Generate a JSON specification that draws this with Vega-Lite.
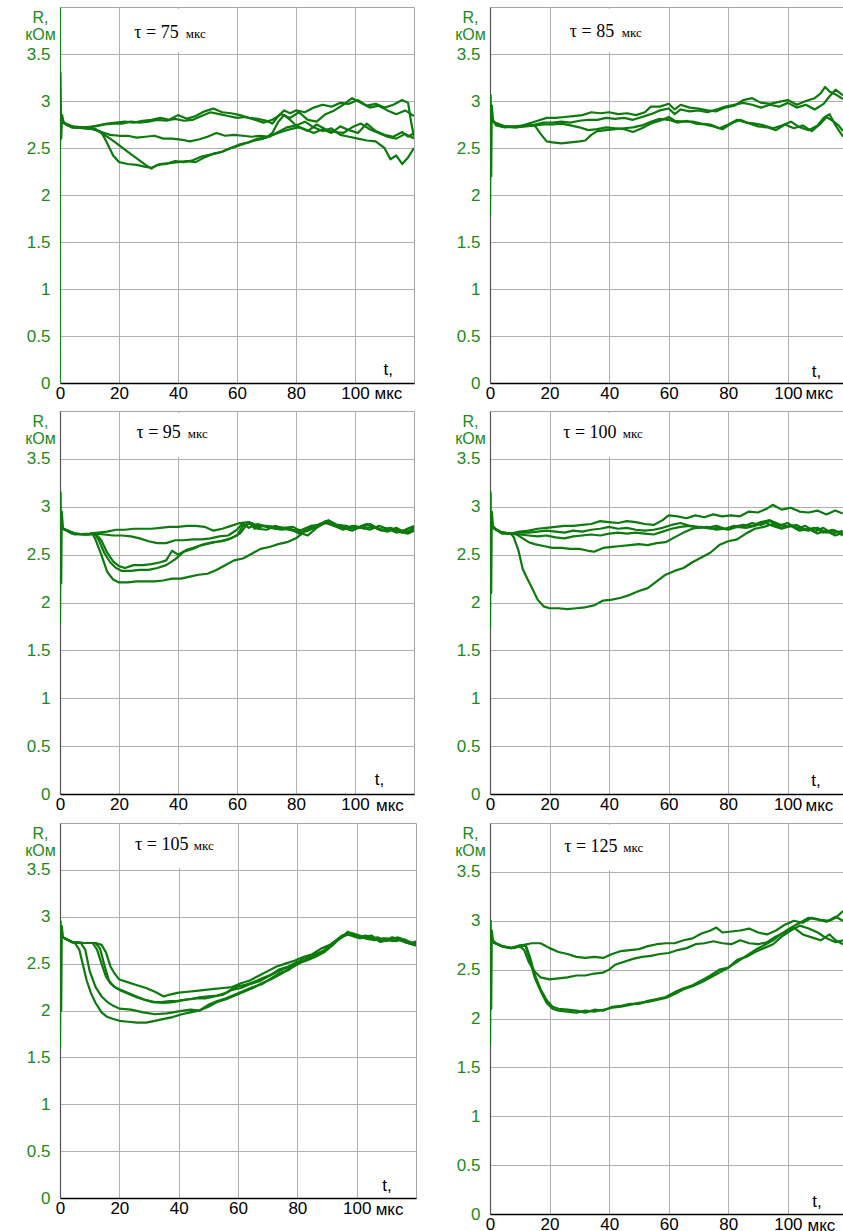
{
"$schema":"https://vega.github.io/schema/vega-lite/v6.json",
"background":"white",
"padding":{"left":5,"top":6,"right":0,"bottom":0},
"datasets":{"tr":[
{"p":1,"s":"a","t":0,"R":2.5},{"p":1,"s":"a","t":0.15,"R":3.3},{"p":1,"s":"a","t":0.4,"R":2.6},{"p":1,"s":"a","t":0.7,"R":2.85},{"p":1,"s":"a","t":1.2,"R":2.78},{"p":1,"s":"a","t":2.5,"R":2.74},{"p":1,"s":"a","t":5,"R":2.72},{"p":1,"s":"a","t":8,"R":2.72},{"p":1,"s":"a","t":10,"R":2.72},{"p":1,"s":"a","t":13,"R":2.74},{"p":1,"s":"a","t":16,"R":2.76},{"p":1,"s":"a","t":19,"R":2.77},{"p":1,"s":"a","t":22,"R":2.78},{"p":1,"s":"a","t":25,"R":2.77},{"p":1,"s":"a","t":28,"R":2.79},{"p":1,"s":"a","t":31,"R":2.8},{"p":1,"s":"a","t":34,"R":2.82},{"p":1,"s":"a","t":37,"R":2.8},{"p":1,"s":"a","t":40,"R":2.85},{"p":1,"s":"a","t":43,"R":2.81},{"p":1,"s":"a","t":46,"R":2.84},{"p":1,"s":"a","t":49,"R":2.89},{"p":1,"s":"a","t":52,"R":2.92},{"p":1,"s":"a","t":55,"R":2.88},{"p":1,"s":"a","t":58,"R":2.87},{"p":1,"s":"a","t":61,"R":2.85},{"p":1,"s":"a","t":64,"R":2.82},{"p":1,"s":"a","t":67,"R":2.81},{"p":1,"s":"a","t":70,"R":2.79},{"p":1,"s":"a","t":72,"R":2.76},{"p":1,"s":"a","t":74,"R":2.84},{"p":1,"s":"a","t":76,"R":2.9},{"p":1,"s":"a","t":78,"R":2.87},{"p":1,"s":"a","t":80,"R":2.9},{"p":1,"s":"a","t":83,"R":2.88},{"p":1,"s":"a","t":86,"R":2.93},{"p":1,"s":"a","t":89,"R":2.96},{"p":1,"s":"a","t":92,"R":2.94},{"p":1,"s":"a","t":95,"R":2.98},{"p":1,"s":"a","t":98,"R":2.97},{"p":1,"s":"a","t":101,"R":3.01},{"p":1,"s":"a","t":104,"R":2.95},{"p":1,"s":"a","t":107,"R":2.97},{"p":1,"s":"a","t":110,"R":2.93},{"p":1,"s":"a","t":113,"R":2.96},{"p":1,"s":"a","t":116,"R":3.01},{"p":1,"s":"a","t":118,"R":2.98},{"p":1,"s":"a","t":119,"R":2.78},{"p":1,"s":"a","t":120,"R":2.62},
{"p":1,"s":"b","t":1,"R":2.77},{"p":1,"s":"b","t":4,"R":2.73},{"p":1,"s":"b","t":8,"R":2.72},{"p":1,"s":"b","t":12,"R":2.73},{"p":1,"s":"b","t":15,"R":2.75},{"p":1,"s":"b","t":18,"R":2.76},{"p":1,"s":"b","t":21,"R":2.76},{"p":1,"s":"b","t":24,"R":2.78},{"p":1,"s":"b","t":27,"R":2.77},{"p":1,"s":"b","t":30,"R":2.78},{"p":1,"s":"b","t":33,"R":2.8},{"p":1,"s":"b","t":36,"R":2.79},{"p":1,"s":"b","t":39,"R":2.81},{"p":1,"s":"b","t":42,"R":2.79},{"p":1,"s":"b","t":45,"R":2.8},{"p":1,"s":"b","t":48,"R":2.84},{"p":1,"s":"b","t":51,"R":2.88},{"p":1,"s":"b","t":54,"R":2.86},{"p":1,"s":"b","t":57,"R":2.84},{"p":1,"s":"b","t":60,"R":2.82},{"p":1,"s":"b","t":63,"R":2.83},{"p":1,"s":"b","t":66,"R":2.8},{"p":1,"s":"b","t":69,"R":2.77},{"p":1,"s":"b","t":72,"R":2.8},{"p":1,"s":"b","t":75,"R":2.86},{"p":1,"s":"b","t":78,"R":2.82},{"p":1,"s":"b","t":81,"R":2.88},{"p":1,"s":"b","t":84,"R":2.8},{"p":1,"s":"b","t":87,"R":2.78},{"p":1,"s":"b","t":90,"R":2.86},{"p":1,"s":"b","t":93,"R":2.9},{"p":1,"s":"b","t":96,"R":2.96},{"p":1,"s":"b","t":99,"R":3.03},{"p":1,"s":"b","t":102,"R":2.98},{"p":1,"s":"b","t":105,"R":2.93},{"p":1,"s":"b","t":108,"R":2.95},{"p":1,"s":"b","t":111,"R":2.9},{"p":1,"s":"b","t":114,"R":2.86},{"p":1,"s":"b","t":117,"R":2.9},{"p":1,"s":"b","t":120,"R":2.84},
{"p":1,"s":"c","t":1,"R":2.77},{"p":1,"s":"c","t":4,"R":2.72},{"p":1,"s":"c","t":8,"R":2.71},{"p":1,"s":"c","t":11,"R":2.7},{"p":1,"s":"c","t":14,"R":2.67},{"p":1,"s":"c","t":17,"R":2.64},{"p":1,"s":"c","t":20,"R":2.63},{"p":1,"s":"c","t":23,"R":2.63},{"p":1,"s":"c","t":26,"R":2.61},{"p":1,"s":"c","t":29,"R":2.62},{"p":1,"s":"c","t":32,"R":2.63},{"p":1,"s":"c","t":35,"R":2.6},{"p":1,"s":"c","t":38,"R":2.6},{"p":1,"s":"c","t":41,"R":2.59},{"p":1,"s":"c","t":44,"R":2.57},{"p":1,"s":"c","t":47,"R":2.59},{"p":1,"s":"c","t":50,"R":2.62},{"p":1,"s":"c","t":53,"R":2.66},{"p":1,"s":"c","t":56,"R":2.63},{"p":1,"s":"c","t":59,"R":2.64},{"p":1,"s":"c","t":62,"R":2.63},{"p":1,"s":"c","t":65,"R":2.62},{"p":1,"s":"c","t":68,"R":2.63},{"p":1,"s":"c","t":71,"R":2.62},{"p":1,"s":"c","t":74,"R":2.67},{"p":1,"s":"c","t":77,"R":2.72},{"p":1,"s":"c","t":80,"R":2.74},{"p":1,"s":"c","t":83,"R":2.7},{"p":1,"s":"c","t":86,"R":2.66},{"p":1,"s":"c","t":89,"R":2.7},{"p":1,"s":"c","t":92,"R":2.66},{"p":1,"s":"c","t":95,"R":2.73},{"p":1,"s":"c","t":98,"R":2.69},{"p":1,"s":"c","t":101,"R":2.66},{"p":1,"s":"c","t":104,"R":2.76},{"p":1,"s":"c","t":107,"R":2.68},{"p":1,"s":"c","t":110,"R":2.64},{"p":1,"s":"c","t":113,"R":2.62},{"p":1,"s":"c","t":116,"R":2.67},{"p":1,"s":"c","t":118,"R":2.62},{"p":1,"s":"c","t":120,"R":2.66},
{"p":1,"s":"d","t":1,"R":2.77},{"p":1,"s":"d","t":4,"R":2.72},{"p":1,"s":"d","t":8,"R":2.71},{"p":1,"s":"d","t":12,"R":2.7},{"p":1,"s":"d","t":14,"R":2.67},{"p":1,"s":"d","t":16,"R":2.55},{"p":1,"s":"d","t":18,"R":2.42},{"p":1,"s":"d","t":20,"R":2.35},{"p":1,"s":"d","t":23,"R":2.33},{"p":1,"s":"d","t":26,"R":2.32},{"p":1,"s":"d","t":29,"R":2.3},{"p":1,"s":"d","t":31,"R":2.29},{"p":1,"s":"d","t":34,"R":2.33},{"p":1,"s":"d","t":37,"R":2.34},{"p":1,"s":"d","t":40,"R":2.35},{"p":1,"s":"d","t":43,"R":2.36},{"p":1,"s":"d","t":46,"R":2.35},{"p":1,"s":"d","t":49,"R":2.4},{"p":1,"s":"d","t":52,"R":2.44},{"p":1,"s":"d","t":55,"R":2.46},{"p":1,"s":"d","t":58,"R":2.5},{"p":1,"s":"d","t":61,"R":2.54},{"p":1,"s":"d","t":64,"R":2.56},{"p":1,"s":"d","t":67,"R":2.6},{"p":1,"s":"d","t":70,"R":2.61},{"p":1,"s":"d","t":72,"R":2.66},{"p":1,"s":"d","t":74,"R":2.78},{"p":1,"s":"d","t":76,"R":2.85},{"p":1,"s":"d","t":78,"R":2.8},{"p":1,"s":"d","t":80,"R":2.74},{"p":1,"s":"d","t":83,"R":2.78},{"p":1,"s":"d","t":86,"R":2.72},{"p":1,"s":"d","t":89,"R":2.68},{"p":1,"s":"d","t":92,"R":2.71},{"p":1,"s":"d","t":95,"R":2.64},{"p":1,"s":"d","t":98,"R":2.62},{"p":1,"s":"d","t":101,"R":2.6},{"p":1,"s":"d","t":104,"R":2.58},{"p":1,"s":"d","t":107,"R":2.57},{"p":1,"s":"d","t":110,"R":2.5},{"p":1,"s":"d","t":112,"R":2.38},{"p":1,"s":"d","t":114,"R":2.42},{"p":1,"s":"d","t":116,"R":2.33},{"p":1,"s":"d","t":118,"R":2.4},{"p":1,"s":"d","t":120,"R":2.5},
{"p":1,"s":"e","t":1,"R":2.77},{"p":1,"s":"e","t":5,"R":2.72},{"p":1,"s":"e","t":9,"R":2.71},{"p":1,"s":"e","t":12,"R":2.7},{"p":1,"s":"e","t":14,"R":2.66},{"p":1,"s":"e","t":17,"R":2.6},{"p":1,"s":"e","t":20,"R":2.53},{"p":1,"s":"e","t":23,"R":2.46},{"p":1,"s":"e","t":26,"R":2.39},{"p":1,"s":"e","t":29,"R":2.32},{"p":1,"s":"e","t":31,"R":2.28},{"p":1,"s":"e","t":33,"R":2.32},{"p":1,"s":"e","t":36,"R":2.33},{"p":1,"s":"e","t":39,"R":2.36},{"p":1,"s":"e","t":42,"R":2.35},{"p":1,"s":"e","t":45,"R":2.37},{"p":1,"s":"e","t":48,"R":2.41},{"p":1,"s":"e","t":51,"R":2.43},{"p":1,"s":"e","t":54,"R":2.45},{"p":1,"s":"e","t":57,"R":2.49},{"p":1,"s":"e","t":60,"R":2.52},{"p":1,"s":"e","t":63,"R":2.55},{"p":1,"s":"e","t":66,"R":2.58},{"p":1,"s":"e","t":69,"R":2.6},{"p":1,"s":"e","t":72,"R":2.64},{"p":1,"s":"e","t":75,"R":2.67},{"p":1,"s":"e","t":78,"R":2.7},{"p":1,"s":"e","t":81,"R":2.72},{"p":1,"s":"e","t":84,"R":2.68},{"p":1,"s":"e","t":87,"R":2.75},{"p":1,"s":"e","t":90,"R":2.7},{"p":1,"s":"e","t":93,"R":2.67},{"p":1,"s":"e","t":96,"R":2.66},{"p":1,"s":"e","t":99,"R":2.72},{"p":1,"s":"e","t":102,"R":2.76},{"p":1,"s":"e","t":105,"R":2.7},{"p":1,"s":"e","t":108,"R":2.66},{"p":1,"s":"e","t":111,"R":2.62},{"p":1,"s":"e","t":114,"R":2.6},{"p":1,"s":"e","t":117,"R":2.65},{"p":1,"s":"e","t":120,"R":2.6},
{"p":2,"s":"a","t":0,"R":1.78},{"p":2,"s":"a","t":0.2,"R":3.06},{"p":2,"s":"a","t":0.4,"R":2.2},{"p":2,"s":"a","t":0.6,"R":2.95},{"p":2,"s":"a","t":1,"R":2.8},{"p":2,"s":"a","t":2,"R":2.74},{"p":2,"s":"a","t":5,"R":2.72},{"p":2,"s":"a","t":10,"R":2.73},{"p":2,"s":"a","t":13,"R":2.76},{"p":2,"s":"a","t":16,"R":2.79},{"p":2,"s":"a","t":19,"R":2.82},{"p":2,"s":"a","t":22,"R":2.82},{"p":2,"s":"a","t":25,"R":2.83},{"p":2,"s":"a","t":28,"R":2.84},{"p":2,"s":"a","t":31,"R":2.85},{"p":2,"s":"a","t":34,"R":2.88},{"p":2,"s":"a","t":37,"R":2.87},{"p":2,"s":"a","t":40,"R":2.88},{"p":2,"s":"a","t":43,"R":2.86},{"p":2,"s":"a","t":46,"R":2.87},{"p":2,"s":"a","t":49,"R":2.85},{"p":2,"s":"a","t":52,"R":2.88},{"p":2,"s":"a","t":54,"R":2.94},{"p":2,"s":"a","t":57,"R":2.94},{"p":2,"s":"a","t":60,"R":2.97},{"p":2,"s":"a","t":62,"R":2.91},{"p":2,"s":"a","t":64,"R":2.96},{"p":2,"s":"a","t":67,"R":2.93},{"p":2,"s":"a","t":70,"R":2.92},{"p":2,"s":"a","t":73,"R":2.9},{"p":2,"s":"a","t":76,"R":2.89},{"p":2,"s":"a","t":79,"R":2.93},{"p":2,"s":"a","t":82,"R":2.95},{"p":2,"s":"a","t":85,"R":3.01},{"p":2,"s":"a","t":88,"R":3.03},{"p":2,"s":"a","t":91,"R":2.98},{"p":2,"s":"a","t":94,"R":2.97},{"p":2,"s":"a","t":97,"R":2.99},{"p":2,"s":"a","t":100,"R":3.01},{"p":2,"s":"a","t":103,"R":2.96},{"p":2,"s":"a","t":106,"R":3},{"p":2,"s":"a","t":109,"R":3.03},{"p":2,"s":"a","t":111,"R":3.08},{"p":2,"s":"a","t":112.5,"R":3.15},{"p":2,"s":"a","t":114,"R":3.1},{"p":2,"s":"a","t":116,"R":3.07},{"p":2,"s":"a","t":118.5,"R":3.02},
{"p":2,"s":"b","t":1,"R":2.78},{"p":2,"s":"b","t":4,"R":2.73},{"p":2,"s":"b","t":8,"R":2.73},{"p":2,"s":"b","t":12,"R":2.74},{"p":2,"s":"b","t":15,"R":2.75},{"p":2,"s":"b","t":18,"R":2.77},{"p":2,"s":"b","t":21,"R":2.77},{"p":2,"s":"b","t":24,"R":2.78},{"p":2,"s":"b","t":27,"R":2.77},{"p":2,"s":"b","t":30,"R":2.79},{"p":2,"s":"b","t":33,"R":2.8},{"p":2,"s":"b","t":36,"R":2.8},{"p":2,"s":"b","t":39,"R":2.82},{"p":2,"s":"b","t":42,"R":2.81},{"p":2,"s":"b","t":45,"R":2.82},{"p":2,"s":"b","t":48,"R":2.8},{"p":2,"s":"b","t":51,"R":2.83},{"p":2,"s":"b","t":54,"R":2.86},{"p":2,"s":"b","t":57,"R":2.9},{"p":2,"s":"b","t":60,"R":2.92},{"p":2,"s":"b","t":62,"R":2.86},{"p":2,"s":"b","t":64,"R":2.91},{"p":2,"s":"b","t":67,"R":2.89},{"p":2,"s":"b","t":70,"R":2.9},{"p":2,"s":"b","t":73,"R":2.88},{"p":2,"s":"b","t":76,"R":2.91},{"p":2,"s":"b","t":79,"R":2.94},{"p":2,"s":"b","t":82,"R":2.96},{"p":2,"s":"b","t":85,"R":2.98},{"p":2,"s":"b","t":88,"R":2.96},{"p":2,"s":"b","t":91,"R":2.93},{"p":2,"s":"b","t":94,"R":2.96},{"p":2,"s":"b","t":97,"R":2.94},{"p":2,"s":"b","t":100,"R":2.98},{"p":2,"s":"b","t":103,"R":2.93},{"p":2,"s":"b","t":106,"R":2.96},{"p":2,"s":"b","t":109,"R":2.91},{"p":2,"s":"b","t":112,"R":2.97},{"p":2,"s":"b","t":114,"R":3.05},{"p":2,"s":"b","t":116,"R":3.12},{"p":2,"s":"b","t":118.5,"R":3.06},
{"p":2,"s":"c","t":1,"R":2.78},{"p":2,"s":"c","t":4,"R":2.73},{"p":2,"s":"c","t":8,"R":2.72},{"p":2,"s":"c","t":12,"R":2.73},{"p":2,"s":"c","t":15,"R":2.74},{"p":2,"s":"c","t":18,"R":2.75},{"p":2,"s":"c","t":21,"R":2.75},{"p":2,"s":"c","t":24,"R":2.76},{"p":2,"s":"c","t":27,"R":2.74},{"p":2,"s":"c","t":30,"R":2.72},{"p":2,"s":"c","t":33,"R":2.69},{"p":2,"s":"c","t":36,"R":2.7},{"p":2,"s":"c","t":39,"R":2.72},{"p":2,"s":"c","t":42,"R":2.71},{"p":2,"s":"c","t":45,"R":2.7},{"p":2,"s":"c","t":48,"R":2.67},{"p":2,"s":"c","t":51,"R":2.71},{"p":2,"s":"c","t":54,"R":2.76},{"p":2,"s":"c","t":57,"R":2.79},{"p":2,"s":"c","t":60,"R":2.83},{"p":2,"s":"c","t":62,"R":2.79},{"p":2,"s":"c","t":65,"R":2.78},{"p":2,"s":"c","t":68,"R":2.78},{"p":2,"s":"c","t":71,"R":2.76},{"p":2,"s":"c","t":74,"R":2.75},{"p":2,"s":"c","t":77,"R":2.71},{"p":2,"s":"c","t":80,"R":2.75},{"p":2,"s":"c","t":83,"R":2.8},{"p":2,"s":"c","t":86,"R":2.77},{"p":2,"s":"c","t":89,"R":2.76},{"p":2,"s":"c","t":92,"R":2.74},{"p":2,"s":"c","t":95,"R":2.71},{"p":2,"s":"c","t":98,"R":2.74},{"p":2,"s":"c","t":101,"R":2.78},{"p":2,"s":"c","t":104,"R":2.72},{"p":2,"s":"c","t":107,"R":2.69},{"p":2,"s":"c","t":110,"R":2.74},{"p":2,"s":"c","t":112,"R":2.82},{"p":2,"s":"c","t":114,"R":2.86},{"p":2,"s":"c","t":116,"R":2.74},{"p":2,"s":"c","t":118.5,"R":2.62},
{"p":2,"s":"d","t":1,"R":2.78},{"p":2,"s":"d","t":5,"R":2.73},{"p":2,"s":"d","t":9,"R":2.72},{"p":2,"s":"d","t":13,"R":2.74},{"p":2,"s":"d","t":15,"R":2.74},{"p":2,"s":"d","t":17,"R":2.65},{"p":2,"s":"d","t":19,"R":2.57},{"p":2,"s":"d","t":21,"R":2.56},{"p":2,"s":"d","t":24,"R":2.55},{"p":2,"s":"d","t":27,"R":2.56},{"p":2,"s":"d","t":30,"R":2.57},{"p":2,"s":"d","t":32,"R":2.58},{"p":2,"s":"d","t":34,"R":2.64},{"p":2,"s":"d","t":36,"R":2.68},{"p":2,"s":"d","t":39,"R":2.69},{"p":2,"s":"d","t":42,"R":2.7},{"p":2,"s":"d","t":45,"R":2.71},{"p":2,"s":"d","t":48,"R":2.72},{"p":2,"s":"d","t":51,"R":2.74},{"p":2,"s":"d","t":54,"R":2.78},{"p":2,"s":"d","t":57,"R":2.81},{"p":2,"s":"d","t":60,"R":2.8},{"p":2,"s":"d","t":63,"R":2.77},{"p":2,"s":"d","t":66,"R":2.79},{"p":2,"s":"d","t":69,"R":2.76},{"p":2,"s":"d","t":72,"R":2.75},{"p":2,"s":"d","t":75,"R":2.73},{"p":2,"s":"d","t":78,"R":2.7},{"p":2,"s":"d","t":81,"R":2.76},{"p":2,"s":"d","t":84,"R":2.8},{"p":2,"s":"d","t":87,"R":2.76},{"p":2,"s":"d","t":90,"R":2.73},{"p":2,"s":"d","t":93,"R":2.72},{"p":2,"s":"d","t":96,"R":2.69},{"p":2,"s":"d","t":99,"R":2.75},{"p":2,"s":"d","t":102,"R":2.71},{"p":2,"s":"d","t":105,"R":2.74},{"p":2,"s":"d","t":108,"R":2.68},{"p":2,"s":"d","t":111,"R":2.76},{"p":2,"s":"d","t":113,"R":2.83},{"p":2,"s":"d","t":115,"R":2.79},{"p":2,"s":"d","t":117,"R":2.74},{"p":2,"s":"d","t":118.5,"R":2.68},
{"p":3,"s":"a","t":0,"R":1.78},{"p":3,"s":"a","t":0.2,"R":3.15},{"p":3,"s":"a","t":0.4,"R":2.2},{"p":3,"s":"a","t":0.6,"R":2.95},{"p":3,"s":"a","t":1,"R":2.78},{"p":3,"s":"a","t":2,"R":2.76},{"p":3,"s":"a","t":5,"R":2.71},{"p":3,"s":"a","t":10,"R":2.72},{"p":3,"s":"a","t":13,"R":2.73},{"p":3,"s":"a","t":16,"R":2.74},{"p":3,"s":"a","t":19,"R":2.76},{"p":3,"s":"a","t":22,"R":2.76},{"p":3,"s":"a","t":25,"R":2.77},{"p":3,"s":"a","t":28,"R":2.77},{"p":3,"s":"a","t":31,"R":2.77},{"p":3,"s":"a","t":34,"R":2.78},{"p":3,"s":"a","t":37,"R":2.79},{"p":3,"s":"a","t":40,"R":2.79},{"p":3,"s":"a","t":43,"R":2.8},{"p":3,"s":"a","t":46,"R":2.8},{"p":3,"s":"a","t":49,"R":2.79},{"p":3,"s":"a","t":52,"R":2.75},{"p":3,"s":"a","t":55,"R":2.77},{"p":3,"s":"a","t":58,"R":2.8},{"p":3,"s":"a","t":61,"R":2.83},{"p":3,"s":"a","t":64,"R":2.84},{"p":3,"s":"a","t":67,"R":2.8},{"p":3,"s":"a","t":70,"R":2.8},{"p":3,"s":"a","t":73,"R":2.79},{"p":3,"s":"a","t":76,"R":2.78},{"p":3,"s":"a","t":79,"R":2.79},{"p":3,"s":"a","t":82,"R":2.74},{"p":3,"s":"a","t":85,"R":2.77},{"p":3,"s":"a","t":88,"R":2.8},{"p":3,"s":"a","t":90,"R":2.85},{"p":3,"s":"a","t":92,"R":2.82},{"p":3,"s":"a","t":95,"R":2.79},{"p":3,"s":"a","t":98,"R":2.77},{"p":3,"s":"a","t":101,"R":2.78},{"p":3,"s":"a","t":104,"R":2.82},{"p":3,"s":"a","t":107,"R":2.78},{"p":3,"s":"a","t":110,"R":2.75},{"p":3,"s":"a","t":113,"R":2.76},{"p":3,"s":"a","t":116,"R":2.73},{"p":3,"s":"a","t":118,"R":2.77},{"p":3,"s":"a","t":120,"R":2.79},
{"p":3,"s":"b","t":1,"R":2.77},{"p":3,"s":"b","t":4,"R":2.72},{"p":3,"s":"b","t":8,"R":2.71},{"p":3,"s":"b","t":12,"R":2.72},{"p":3,"s":"b","t":15,"R":2.71},{"p":3,"s":"b","t":18,"R":2.7},{"p":3,"s":"b","t":21,"R":2.7},{"p":3,"s":"b","t":24,"R":2.69},{"p":3,"s":"b","t":27,"R":2.67},{"p":3,"s":"b","t":30,"R":2.64},{"p":3,"s":"b","t":33,"R":2.62},{"p":3,"s":"b","t":36,"R":2.62},{"p":3,"s":"b","t":39,"R":2.65},{"p":3,"s":"b","t":42,"R":2.65},{"p":3,"s":"b","t":45,"R":2.66},{"p":3,"s":"b","t":48,"R":2.66},{"p":3,"s":"b","t":51,"R":2.67},{"p":3,"s":"b","t":54,"R":2.69},{"p":3,"s":"b","t":57,"R":2.7},{"p":3,"s":"b","t":60,"R":2.76},{"p":3,"s":"b","t":62,"R":2.83},{"p":3,"s":"b","t":64,"R":2.78},{"p":3,"s":"b","t":67,"R":2.82},{"p":3,"s":"b","t":70,"R":2.79},{"p":3,"s":"b","t":73,"R":2.77},{"p":3,"s":"b","t":76,"R":2.78},{"p":3,"s":"b","t":79,"R":2.76},{"p":3,"s":"b","t":82,"R":2.73},{"p":3,"s":"b","t":85,"R":2.78},{"p":3,"s":"b","t":88,"R":2.82},{"p":3,"s":"b","t":91,"R":2.86},{"p":3,"s":"b","t":94,"R":2.81},{"p":3,"s":"b","t":97,"R":2.8},{"p":3,"s":"b","t":100,"R":2.77},{"p":3,"s":"b","t":103,"R":2.81},{"p":3,"s":"b","t":106,"R":2.8},{"p":3,"s":"b","t":109,"R":2.76},{"p":3,"s":"b","t":112,"R":2.78},{"p":3,"s":"b","t":115,"R":2.75},{"p":3,"s":"b","t":118,"R":2.74},{"p":3,"s":"b","t":120,"R":2.78},
{"p":3,"s":"c","t":1,"R":2.77},{"p":3,"s":"c","t":5,"R":2.72},{"p":3,"s":"c","t":9,"R":2.71},{"p":3,"s":"c","t":12,"R":2.72},{"p":3,"s":"c","t":14,"R":2.65},{"p":3,"s":"c","t":16,"R":2.52},{"p":3,"s":"c","t":18,"R":2.43},{"p":3,"s":"c","t":20,"R":2.38},{"p":3,"s":"c","t":22,"R":2.36},{"p":3,"s":"c","t":25,"R":2.39},{"p":3,"s":"c","t":28,"R":2.39},{"p":3,"s":"c","t":31,"R":2.4},{"p":3,"s":"c","t":34,"R":2.42},{"p":3,"s":"c","t":36,"R":2.44},{"p":3,"s":"c","t":38,"R":2.54},{"p":3,"s":"c","t":40,"R":2.5},{"p":3,"s":"c","t":43,"R":2.55},{"p":3,"s":"c","t":46,"R":2.58},{"p":3,"s":"c","t":49,"R":2.61},{"p":3,"s":"c","t":52,"R":2.63},{"p":3,"s":"c","t":55,"R":2.64},{"p":3,"s":"c","t":58,"R":2.67},{"p":3,"s":"c","t":61,"R":2.72},{"p":3,"s":"c","t":64,"R":2.84},{"p":3,"s":"c","t":66,"R":2.77},{"p":3,"s":"c","t":69,"R":2.8},{"p":3,"s":"c","t":72,"R":2.78},{"p":3,"s":"c","t":75,"R":2.76},{"p":3,"s":"c","t":78,"R":2.77},{"p":3,"s":"c","t":81,"R":2.72},{"p":3,"s":"c","t":84,"R":2.75},{"p":3,"s":"c","t":87,"R":2.79},{"p":3,"s":"c","t":90,"R":2.83},{"p":3,"s":"c","t":93,"R":2.8},{"p":3,"s":"c","t":96,"R":2.78},{"p":3,"s":"c","t":99,"R":2.75},{"p":3,"s":"c","t":102,"R":2.79},{"p":3,"s":"c","t":105,"R":2.76},{"p":3,"s":"c","t":108,"R":2.8},{"p":3,"s":"c","t":111,"R":2.77},{"p":3,"s":"c","t":114,"R":2.73},{"p":3,"s":"c","t":117,"R":2.76},{"p":3,"s":"c","t":120,"R":2.8},
{"p":3,"s":"d","t":1,"R":2.77},{"p":3,"s":"d","t":5,"R":2.72},{"p":3,"s":"d","t":9,"R":2.71},{"p":3,"s":"d","t":12,"R":2.71},{"p":3,"s":"d","t":13,"R":2.66},{"p":3,"s":"d","t":15,"R":2.52},{"p":3,"s":"d","t":17,"R":2.42},{"p":3,"s":"d","t":19,"R":2.36},{"p":3,"s":"d","t":21,"R":2.33},{"p":3,"s":"d","t":24,"R":2.33},{"p":3,"s":"d","t":27,"R":2.34},{"p":3,"s":"d","t":30,"R":2.34},{"p":3,"s":"d","t":33,"R":2.36},{"p":3,"s":"d","t":36,"R":2.39},{"p":3,"s":"d","t":39,"R":2.45},{"p":3,"s":"d","t":42,"R":2.53},{"p":3,"s":"d","t":45,"R":2.56},{"p":3,"s":"d","t":48,"R":2.6},{"p":3,"s":"d","t":51,"R":2.62},{"p":3,"s":"d","t":54,"R":2.64},{"p":3,"s":"d","t":57,"R":2.66},{"p":3,"s":"d","t":60,"R":2.7},{"p":3,"s":"d","t":62,"R":2.8},{"p":3,"s":"d","t":65,"R":2.83},{"p":3,"s":"d","t":67,"R":2.77},{"p":3,"s":"d","t":70,"R":2.76},{"p":3,"s":"d","t":73,"R":2.8},{"p":3,"s":"d","t":76,"R":2.77},{"p":3,"s":"d","t":79,"R":2.75},{"p":3,"s":"d","t":82,"R":2.76},{"p":3,"s":"d","t":85,"R":2.8},{"p":3,"s":"d","t":88,"R":2.81},{"p":3,"s":"d","t":91,"R":2.84},{"p":3,"s":"d","t":94,"R":2.8},{"p":3,"s":"d","t":97,"R":2.78},{"p":3,"s":"d","t":100,"R":2.8},{"p":3,"s":"d","t":103,"R":2.77},{"p":3,"s":"d","t":106,"R":2.79},{"p":3,"s":"d","t":109,"R":2.75},{"p":3,"s":"d","t":112,"R":2.77},{"p":3,"s":"d","t":115,"R":2.74},{"p":3,"s":"d","t":118,"R":2.72},{"p":3,"s":"d","t":120,"R":2.75},
{"p":3,"s":"e","t":1,"R":2.77},{"p":3,"s":"e","t":5,"R":2.72},{"p":3,"s":"e","t":9,"R":2.71},{"p":3,"s":"e","t":11,"R":2.72},{"p":3,"s":"e","t":12,"R":2.66},{"p":3,"s":"e","t":14,"R":2.5},{"p":3,"s":"e","t":16,"R":2.32},{"p":3,"s":"e","t":18,"R":2.24},{"p":3,"s":"e","t":20,"R":2.21},{"p":3,"s":"e","t":23,"R":2.21},{"p":3,"s":"e","t":26,"R":2.22},{"p":3,"s":"e","t":29,"R":2.22},{"p":3,"s":"e","t":32,"R":2.22},{"p":3,"s":"e","t":35,"R":2.23},{"p":3,"s":"e","t":38,"R":2.25},{"p":3,"s":"e","t":41,"R":2.25},{"p":3,"s":"e","t":44,"R":2.27},{"p":3,"s":"e","t":47,"R":2.29},{"p":3,"s":"e","t":50,"R":2.3},{"p":3,"s":"e","t":53,"R":2.34},{"p":3,"s":"e","t":56,"R":2.39},{"p":3,"s":"e","t":59,"R":2.44},{"p":3,"s":"e","t":62,"R":2.46},{"p":3,"s":"e","t":65,"R":2.51},{"p":3,"s":"e","t":68,"R":2.56},{"p":3,"s":"e","t":71,"R":2.58},{"p":3,"s":"e","t":74,"R":2.61},{"p":3,"s":"e","t":77,"R":2.63},{"p":3,"s":"e","t":80,"R":2.67},{"p":3,"s":"e","t":82,"R":2.72},{"p":3,"s":"e","t":84,"R":2.7},{"p":3,"s":"e","t":87,"R":2.78},{"p":3,"s":"e","t":90,"R":2.84},{"p":3,"s":"e","t":93,"R":2.8},{"p":3,"s":"e","t":96,"R":2.76},{"p":3,"s":"e","t":99,"R":2.8},{"p":3,"s":"e","t":102,"R":2.78},{"p":3,"s":"e","t":105,"R":2.82},{"p":3,"s":"e","t":108,"R":2.77},{"p":3,"s":"e","t":111,"R":2.74},{"p":3,"s":"e","t":114,"R":2.78},{"p":3,"s":"e","t":117,"R":2.73},{"p":3,"s":"e","t":120,"R":2.76},
{"p":4,"s":"a","t":0,"R":1.73},{"p":4,"s":"a","t":0.2,"R":3.15},{"p":4,"s":"a","t":0.4,"R":2.1},{"p":4,"s":"a","t":0.6,"R":2.95},{"p":4,"s":"a","t":1,"R":2.8},{"p":4,"s":"a","t":2,"R":2.76},{"p":4,"s":"a","t":4,"R":2.72},{"p":4,"s":"a","t":7,"R":2.72},{"p":4,"s":"a","t":10,"R":2.74},{"p":4,"s":"a","t":13,"R":2.75},{"p":4,"s":"a","t":16,"R":2.77},{"p":4,"s":"a","t":19,"R":2.78},{"p":4,"s":"a","t":22,"R":2.79},{"p":4,"s":"a","t":25,"R":2.8},{"p":4,"s":"a","t":28,"R":2.8},{"p":4,"s":"a","t":31,"R":2.81},{"p":4,"s":"a","t":34,"R":2.82},{"p":4,"s":"a","t":37,"R":2.85},{"p":4,"s":"a","t":40,"R":2.84},{"p":4,"s":"a","t":43,"R":2.83},{"p":4,"s":"a","t":46,"R":2.85},{"p":4,"s":"a","t":49,"R":2.84},{"p":4,"s":"a","t":52,"R":2.82},{"p":4,"s":"a","t":55,"R":2.81},{"p":4,"s":"a","t":58,"R":2.86},{"p":4,"s":"a","t":60,"R":2.91},{"p":4,"s":"a","t":63,"R":2.9},{"p":4,"s":"a","t":66,"R":2.88},{"p":4,"s":"a","t":69,"R":2.91},{"p":4,"s":"a","t":72,"R":2.89},{"p":4,"s":"a","t":75,"R":2.92},{"p":4,"s":"a","t":78,"R":2.9},{"p":4,"s":"a","t":81,"R":2.91},{"p":4,"s":"a","t":84,"R":2.9},{"p":4,"s":"a","t":87,"R":2.95},{"p":4,"s":"a","t":90,"R":2.94},{"p":4,"s":"a","t":93,"R":2.98},{"p":4,"s":"a","t":95,"R":3.02},{"p":4,"s":"a","t":98,"R":2.97},{"p":4,"s":"a","t":101,"R":2.99},{"p":4,"s":"a","t":104,"R":2.95},{"p":4,"s":"a","t":107,"R":2.94},{"p":4,"s":"a","t":110,"R":2.96},{"p":4,"s":"a","t":113,"R":2.92},{"p":4,"s":"a","t":116,"R":2.96},{"p":4,"s":"a","t":118.5,"R":2.93},
{"p":4,"s":"b","t":1,"R":2.78},{"p":4,"s":"b","t":4,"R":2.73},{"p":4,"s":"b","t":7,"R":2.72},{"p":4,"s":"b","t":10,"R":2.73},{"p":4,"s":"b","t":13,"R":2.73},{"p":4,"s":"b","t":16,"R":2.74},{"p":4,"s":"b","t":19,"R":2.75},{"p":4,"s":"b","t":22,"R":2.74},{"p":4,"s":"b","t":25,"R":2.73},{"p":4,"s":"b","t":28,"R":2.75},{"p":4,"s":"b","t":31,"R":2.74},{"p":4,"s":"b","t":34,"R":2.76},{"p":4,"s":"b","t":37,"R":2.77},{"p":4,"s":"b","t":40,"R":2.79},{"p":4,"s":"b","t":43,"R":2.77},{"p":4,"s":"b","t":46,"R":2.78},{"p":4,"s":"b","t":49,"R":2.76},{"p":4,"s":"b","t":52,"R":2.75},{"p":4,"s":"b","t":55,"R":2.76},{"p":4,"s":"b","t":58,"R":2.78},{"p":4,"s":"b","t":61,"R":2.81},{"p":4,"s":"b","t":64,"R":2.83},{"p":4,"s":"b","t":67,"R":2.8},{"p":4,"s":"b","t":70,"R":2.79},{"p":4,"s":"b","t":73,"R":2.78},{"p":4,"s":"b","t":76,"R":2.8},{"p":4,"s":"b","t":79,"R":2.77},{"p":4,"s":"b","t":82,"R":2.79},{"p":4,"s":"b","t":85,"R":2.81},{"p":4,"s":"b","t":88,"R":2.8},{"p":4,"s":"b","t":91,"R":2.84},{"p":4,"s":"b","t":94,"R":2.86},{"p":4,"s":"b","t":97,"R":2.82},{"p":4,"s":"b","t":100,"R":2.79},{"p":4,"s":"b","t":103,"R":2.81},{"p":4,"s":"b","t":106,"R":2.76},{"p":4,"s":"b","t":109,"R":2.78},{"p":4,"s":"b","t":112,"R":2.73},{"p":4,"s":"b","t":115,"R":2.76},{"p":4,"s":"b","t":118.5,"R":2.72},
{"p":4,"s":"c","t":1,"R":2.78},{"p":4,"s":"c","t":4,"R":2.73},{"p":4,"s":"c","t":7,"R":2.72},{"p":4,"s":"c","t":10,"R":2.71},{"p":4,"s":"c","t":13,"R":2.7},{"p":4,"s":"c","t":16,"R":2.69},{"p":4,"s":"c","t":19,"R":2.7},{"p":4,"s":"c","t":22,"R":2.68},{"p":4,"s":"c","t":25,"R":2.67},{"p":4,"s":"c","t":28,"R":2.69},{"p":4,"s":"c","t":31,"R":2.7},{"p":4,"s":"c","t":34,"R":2.71},{"p":4,"s":"c","t":37,"R":2.7},{"p":4,"s":"c","t":40,"R":2.72},{"p":4,"s":"c","t":43,"R":2.73},{"p":4,"s":"c","t":46,"R":2.72},{"p":4,"s":"c","t":49,"R":2.73},{"p":4,"s":"c","t":52,"R":2.72},{"p":4,"s":"c","t":55,"R":2.71},{"p":4,"s":"c","t":58,"R":2.74},{"p":4,"s":"c","t":61,"R":2.77},{"p":4,"s":"c","t":64,"R":2.79},{"p":4,"s":"c","t":67,"R":2.8},{"p":4,"s":"c","t":70,"R":2.78},{"p":4,"s":"c","t":73,"R":2.79},{"p":4,"s":"c","t":76,"R":2.76},{"p":4,"s":"c","t":79,"R":2.77},{"p":4,"s":"c","t":82,"R":2.8},{"p":4,"s":"c","t":85,"R":2.79},{"p":4,"s":"c","t":88,"R":2.83},{"p":4,"s":"c","t":91,"R":2.81},{"p":4,"s":"c","t":94,"R":2.85},{"p":4,"s":"c","t":97,"R":2.8},{"p":4,"s":"c","t":100,"R":2.83},{"p":4,"s":"c","t":103,"R":2.77},{"p":4,"s":"c","t":106,"R":2.8},{"p":4,"s":"c","t":109,"R":2.74},{"p":4,"s":"c","t":112,"R":2.78},{"p":4,"s":"c","t":115,"R":2.72},{"p":4,"s":"c","t":118.5,"R":2.75},
{"p":4,"s":"d","t":1,"R":2.78},{"p":4,"s":"d","t":4,"R":2.73},{"p":4,"s":"d","t":7,"R":2.72},{"p":4,"s":"d","t":9,"R":2.71},{"p":4,"s":"d","t":11,"R":2.67},{"p":4,"s":"d","t":13,"R":2.63},{"p":4,"s":"d","t":15,"R":2.61},{"p":4,"s":"d","t":18,"R":2.59},{"p":4,"s":"d","t":21,"R":2.57},{"p":4,"s":"d","t":24,"R":2.57},{"p":4,"s":"d","t":27,"R":2.56},{"p":4,"s":"d","t":30,"R":2.56},{"p":4,"s":"d","t":33,"R":2.54},{"p":4,"s":"d","t":35,"R":2.53},{"p":4,"s":"d","t":38,"R":2.57},{"p":4,"s":"d","t":41,"R":2.58},{"p":4,"s":"d","t":44,"R":2.59},{"p":4,"s":"d","t":47,"R":2.6},{"p":4,"s":"d","t":50,"R":2.61},{"p":4,"s":"d","t":53,"R":2.6},{"p":4,"s":"d","t":56,"R":2.62},{"p":4,"s":"d","t":59,"R":2.63},{"p":4,"s":"d","t":62,"R":2.68},{"p":4,"s":"d","t":65,"R":2.73},{"p":4,"s":"d","t":68,"R":2.77},{"p":4,"s":"d","t":71,"R":2.79},{"p":4,"s":"d","t":74,"R":2.77},{"p":4,"s":"d","t":77,"R":2.78},{"p":4,"s":"d","t":80,"R":2.76},{"p":4,"s":"d","t":83,"R":2.79},{"p":4,"s":"d","t":86,"R":2.78},{"p":4,"s":"d","t":89,"R":2.8},{"p":4,"s":"d","t":92,"R":2.84},{"p":4,"s":"d","t":95,"R":2.8},{"p":4,"s":"d","t":98,"R":2.77},{"p":4,"s":"d","t":101,"R":2.8},{"p":4,"s":"d","t":104,"R":2.75},{"p":4,"s":"d","t":107,"R":2.77},{"p":4,"s":"d","t":110,"R":2.72},{"p":4,"s":"d","t":113,"R":2.75},{"p":4,"s":"d","t":116,"R":2.7},{"p":4,"s":"d","t":118.5,"R":2.73},
{"p":4,"s":"e","t":1,"R":2.78},{"p":4,"s":"e","t":4,"R":2.73},{"p":4,"s":"e","t":7,"R":2.72},{"p":4,"s":"e","t":8,"R":2.68},{"p":4,"s":"e","t":9.5,"R":2.55},{"p":4,"s":"e","t":11,"R":2.35},{"p":4,"s":"e","t":12.5,"R":2.25},{"p":4,"s":"e","t":14,"R":2.16},{"p":4,"s":"e","t":16,"R":2.03},{"p":4,"s":"e","t":18,"R":1.96},{"p":4,"s":"e","t":20,"R":1.94},{"p":4,"s":"e","t":23,"R":1.94},{"p":4,"s":"e","t":26,"R":1.93},{"p":4,"s":"e","t":29,"R":1.94},{"p":4,"s":"e","t":32,"R":1.95},{"p":4,"s":"e","t":35,"R":1.97},{"p":4,"s":"e","t":38,"R":2.02},{"p":4,"s":"e","t":41,"R":2.03},{"p":4,"s":"e","t":44,"R":2.05},{"p":4,"s":"e","t":47,"R":2.08},{"p":4,"s":"e","t":50,"R":2.12},{"p":4,"s":"e","t":53,"R":2.15},{"p":4,"s":"e","t":56,"R":2.22},{"p":4,"s":"e","t":59,"R":2.29},{"p":4,"s":"e","t":62,"R":2.33},{"p":4,"s":"e","t":65,"R":2.36},{"p":4,"s":"e","t":68,"R":2.42},{"p":4,"s":"e","t":71,"R":2.47},{"p":4,"s":"e","t":74,"R":2.52},{"p":4,"s":"e","t":77,"R":2.6},{"p":4,"s":"e","t":80,"R":2.64},{"p":4,"s":"e","t":83,"R":2.66},{"p":4,"s":"e","t":86,"R":2.72},{"p":4,"s":"e","t":89,"R":2.77},{"p":4,"s":"e","t":92,"R":2.79},{"p":4,"s":"e","t":95,"R":2.82},{"p":4,"s":"e","t":98,"R":2.78},{"p":4,"s":"e","t":101,"R":2.81},{"p":4,"s":"e","t":104,"R":2.77},{"p":4,"s":"e","t":107,"R":2.75},{"p":4,"s":"e","t":110,"R":2.78},{"p":4,"s":"e","t":113,"R":2.73},{"p":4,"s":"e","t":116,"R":2.75},{"p":4,"s":"e","t":118.5,"R":2.7},
{"p":5,"s":"a","t":0,"R":1.6},{"p":5,"s":"a","t":0.2,"R":2.95},{"p":5,"s":"a","t":0.4,"R":2.0},{"p":5,"s":"a","t":0.6,"R":2.9},{"p":5,"s":"a","t":1,"R":2.78},{"p":5,"s":"a","t":3,"R":2.75},{"p":5,"s":"a","t":5,"R":2.72},{"p":5,"s":"a","t":6.5,"R":2.65},{"p":5,"s":"a","t":8,"R":2.45},{"p":5,"s":"a","t":9,"R":2.32},{"p":5,"s":"a","t":10.5,"R":2.18},{"p":5,"s":"a","t":12,"R":2.08},{"p":5,"s":"a","t":14,"R":1.98},{"p":5,"s":"a","t":16,"R":1.93},{"p":5,"s":"a","t":18,"R":1.91},{"p":5,"s":"a","t":20,"R":1.89},{"p":5,"s":"a","t":23,"R":1.88},{"p":5,"s":"a","t":26,"R":1.87},{"p":5,"s":"a","t":29,"R":1.87},{"p":5,"s":"a","t":32,"R":1.89},{"p":5,"s":"a","t":35,"R":1.91},{"p":5,"s":"a","t":38,"R":1.93},{"p":5,"s":"a","t":41,"R":1.96},{"p":5,"s":"a","t":44,"R":1.98},{"p":5,"s":"a","t":47,"R":2.0},{"p":5,"s":"a","t":50,"R":2.04},{"p":5,"s":"a","t":53,"R":2.09},{"p":5,"s":"a","t":56,"R":2.12},{"p":5,"s":"a","t":59,"R":2.16},{"p":5,"s":"a","t":62,"R":2.2},{"p":5,"s":"a","t":65,"R":2.24},{"p":5,"s":"a","t":68,"R":2.29},{"p":5,"s":"a","t":71,"R":2.33},{"p":5,"s":"a","t":74,"R":2.38},{"p":5,"s":"a","t":77,"R":2.44},{"p":5,"s":"a","t":80,"R":2.49},{"p":5,"s":"a","t":83,"R":2.55},{"p":5,"s":"a","t":86,"R":2.58},{"p":5,"s":"a","t":89,"R":2.63},{"p":5,"s":"a","t":92,"R":2.72},{"p":5,"s":"a","t":95,"R":2.78},{"p":5,"s":"a","t":97,"R":2.84},{"p":5,"s":"a","t":99,"R":2.8},{"p":5,"s":"a","t":102,"R":2.78},{"p":5,"s":"a","t":105,"R":2.8},{"p":5,"s":"a","t":108,"R":2.73},{"p":5,"s":"a","t":111,"R":2.76},{"p":5,"s":"a","t":114,"R":2.78},{"p":5,"s":"a","t":117,"R":2.72},{"p":5,"s":"a","t":120,"R":2.72},
{"p":5,"s":"b","t":1,"R":2.78},{"p":5,"s":"b","t":4,"R":2.73},{"p":5,"s":"b","t":7,"R":2.72},{"p":5,"s":"b","t":8.5,"R":2.65},{"p":5,"s":"b","t":10,"R":2.42},{"p":5,"s":"b","t":12,"R":2.25},{"p":5,"s":"b","t":14,"R":2.15},{"p":5,"s":"b","t":16,"R":2.09},{"p":5,"s":"b","t":18,"R":2.05},{"p":5,"s":"b","t":20,"R":2.02},{"p":5,"s":"b","t":24,"R":2.01},{"p":5,"s":"b","t":28,"R":1.98},{"p":5,"s":"b","t":32,"R":1.96},{"p":5,"s":"b","t":36,"R":1.97},{"p":5,"s":"b","t":40,"R":1.99},{"p":5,"s":"b","t":44,"R":2.01},{"p":5,"s":"b","t":47,"R":2.0},{"p":5,"s":"b","t":50,"R":2.06},{"p":5,"s":"b","t":53,"R":2.1},{"p":5,"s":"b","t":56,"R":2.13},{"p":5,"s":"b","t":59,"R":2.17},{"p":5,"s":"b","t":62,"R":2.21},{"p":5,"s":"b","t":65,"R":2.25},{"p":5,"s":"b","t":68,"R":2.28},{"p":5,"s":"b","t":71,"R":2.34},{"p":5,"s":"b","t":74,"R":2.4},{"p":5,"s":"b","t":77,"R":2.43},{"p":5,"s":"b","t":80,"R":2.5},{"p":5,"s":"b","t":83,"R":2.53},{"p":5,"s":"b","t":86,"R":2.57},{"p":5,"s":"b","t":89,"R":2.62},{"p":5,"s":"b","t":92,"R":2.7},{"p":5,"s":"b","t":95,"R":2.79},{"p":5,"s":"b","t":98,"R":2.82},{"p":5,"s":"b","t":101,"R":2.77},{"p":5,"s":"b","t":104,"R":2.79},{"p":5,"s":"b","t":107,"R":2.75},{"p":5,"s":"b","t":110,"R":2.77},{"p":5,"s":"b","t":113,"R":2.74},{"p":5,"s":"b","t":116,"R":2.76},{"p":5,"s":"b","t":120,"R":2.7},
{"p":5,"s":"c","t":1,"R":2.78},{"p":5,"s":"c","t":4,"R":2.73},{"p":5,"s":"c","t":8,"R":2.72},{"p":5,"s":"c","t":11,"R":2.72},{"p":5,"s":"c","t":12.5,"R":2.65},{"p":5,"s":"c","t":14,"R":2.5},{"p":5,"s":"c","t":15.5,"R":2.36},{"p":5,"s":"c","t":17,"R":2.29},{"p":5,"s":"c","t":19,"R":2.24},{"p":5,"s":"c","t":22,"R":2.2},{"p":5,"s":"c","t":25,"R":2.16},{"p":5,"s":"c","t":28,"R":2.12},{"p":5,"s":"c","t":31,"R":2.09},{"p":5,"s":"c","t":34,"R":2.09},{"p":5,"s":"c","t":37,"R":2.1},{"p":5,"s":"c","t":40,"R":2.1},{"p":5,"s":"c","t":43,"R":2.12},{"p":5,"s":"c","t":46,"R":2.13},{"p":5,"s":"c","t":49,"R":2.13},{"p":5,"s":"c","t":52,"R":2.15},{"p":5,"s":"c","t":55,"R":2.17},{"p":5,"s":"c","t":58,"R":2.22},{"p":5,"s":"c","t":61,"R":2.24},{"p":5,"s":"c","t":64,"R":2.28},{"p":5,"s":"c","t":67,"R":2.31},{"p":5,"s":"c","t":70,"R":2.36},{"p":5,"s":"c","t":73,"R":2.41},{"p":5,"s":"c","t":76,"R":2.45},{"p":5,"s":"c","t":79,"R":2.48},{"p":5,"s":"c","t":82,"R":2.56},{"p":5,"s":"c","t":85,"R":2.59},{"p":5,"s":"c","t":88,"R":2.62},{"p":5,"s":"c","t":91,"R":2.68},{"p":5,"s":"c","t":94,"R":2.76},{"p":5,"s":"c","t":97,"R":2.82},{"p":5,"s":"c","t":100,"R":2.79},{"p":5,"s":"c","t":103,"R":2.77},{"p":5,"s":"c","t":106,"R":2.75},{"p":5,"s":"c","t":109,"R":2.77},{"p":5,"s":"c","t":112,"R":2.74},{"p":5,"s":"c","t":115,"R":2.77},{"p":5,"s":"c","t":118,"R":2.71},{"p":5,"s":"c","t":120,"R":2.74},
{"p":5,"s":"d","t":1,"R":2.78},{"p":5,"s":"d","t":4,"R":2.73},{"p":5,"s":"d","t":8,"R":2.72},{"p":5,"s":"d","t":12,"R":2.72},{"p":5,"s":"d","t":13.5,"R":2.66},{"p":5,"s":"d","t":15,"R":2.48},{"p":5,"s":"d","t":16.5,"R":2.32},{"p":5,"s":"d","t":18,"R":2.26},{"p":5,"s":"d","t":20,"R":2.22},{"p":5,"s":"d","t":23,"R":2.18},{"p":5,"s":"d","t":26,"R":2.14},{"p":5,"s":"d","t":29,"R":2.11},{"p":5,"s":"d","t":32,"R":2.09},{"p":5,"s":"d","t":35,"R":2.08},{"p":5,"s":"d","t":38,"R":2.09},{"p":5,"s":"d","t":41,"R":2.11},{"p":5,"s":"d","t":44,"R":2.12},{"p":5,"s":"d","t":47,"R":2.14},{"p":5,"s":"d","t":50,"R":2.15},{"p":5,"s":"d","t":53,"R":2.16},{"p":5,"s":"d","t":56,"R":2.19},{"p":5,"s":"d","t":59,"R":2.25},{"p":5,"s":"d","t":62,"R":2.27},{"p":5,"s":"d","t":65,"R":2.3},{"p":5,"s":"d","t":68,"R":2.34},{"p":5,"s":"d","t":71,"R":2.38},{"p":5,"s":"d","t":74,"R":2.44},{"p":5,"s":"d","t":77,"R":2.47},{"p":5,"s":"d","t":80,"R":2.52},{"p":5,"s":"d","t":83,"R":2.54},{"p":5,"s":"d","t":86,"R":2.6},{"p":5,"s":"d","t":89,"R":2.64},{"p":5,"s":"d","t":92,"R":2.72},{"p":5,"s":"d","t":95,"R":2.8},{"p":5,"s":"d","t":98,"R":2.83},{"p":5,"s":"d","t":101,"R":2.8},{"p":5,"s":"d","t":104,"R":2.76},{"p":5,"s":"d","t":107,"R":2.78},{"p":5,"s":"d","t":110,"R":2.74},{"p":5,"s":"d","t":113,"R":2.77},{"p":5,"s":"d","t":116,"R":2.73},{"p":5,"s":"d","t":120,"R":2.69},
{"p":5,"s":"e","t":1,"R":2.78},{"p":5,"s":"e","t":4,"R":2.73},{"p":5,"s":"e","t":8,"R":2.72},{"p":5,"s":"e","t":12,"R":2.72},{"p":5,"s":"e","t":14,"R":2.7},{"p":5,"s":"e","t":15.5,"R":2.62},{"p":5,"s":"e","t":17,"R":2.47},{"p":5,"s":"e","t":18.5,"R":2.39},{"p":5,"s":"e","t":20,"R":2.33},{"p":5,"s":"e","t":23,"R":2.3},{"p":5,"s":"e","t":26,"R":2.27},{"p":5,"s":"e","t":29,"R":2.24},{"p":5,"s":"e","t":32,"R":2.2},{"p":5,"s":"e","t":35,"R":2.15},{"p":5,"s":"e","t":37,"R":2.17},{"p":5,"s":"e","t":40,"R":2.19},{"p":5,"s":"e","t":43,"R":2.2},{"p":5,"s":"e","t":46,"R":2.21},{"p":5,"s":"e","t":49,"R":2.22},{"p":5,"s":"e","t":52,"R":2.23},{"p":5,"s":"e","t":55,"R":2.24},{"p":5,"s":"e","t":58,"R":2.25},{"p":5,"s":"e","t":61,"R":2.29},{"p":5,"s":"e","t":64,"R":2.32},{"p":5,"s":"e","t":67,"R":2.37},{"p":5,"s":"e","t":70,"R":2.42},{"p":5,"s":"e","t":73,"R":2.47},{"p":5,"s":"e","t":76,"R":2.5},{"p":5,"s":"e","t":79,"R":2.53},{"p":5,"s":"e","t":82,"R":2.57},{"p":5,"s":"e","t":85,"R":2.6},{"p":5,"s":"e","t":88,"R":2.66},{"p":5,"s":"e","t":91,"R":2.7},{"p":5,"s":"e","t":94,"R":2.77},{"p":5,"s":"e","t":97,"R":2.81},{"p":5,"s":"e","t":100,"R":2.78},{"p":5,"s":"e","t":103,"R":2.8},{"p":5,"s":"e","t":106,"R":2.76},{"p":5,"s":"e","t":109,"R":2.74},{"p":5,"s":"e","t":112,"R":2.78},{"p":5,"s":"e","t":115,"R":2.75},{"p":5,"s":"e","t":118,"R":2.73},{"p":5,"s":"e","t":120,"R":2.71},
{"p":6,"s":"a","t":0,"R":1.72},{"p":6,"s":"a","t":0.2,"R":3.0},{"p":6,"s":"a","t":0.4,"R":2.1},{"p":6,"s":"a","t":0.6,"R":2.9},{"p":6,"s":"a","t":1,"R":2.8},{"p":6,"s":"a","t":2,"R":2.77},{"p":6,"s":"a","t":5,"R":2.73},{"p":6,"s":"a","t":8,"R":2.72},{"p":6,"s":"a","t":11,"R":2.75},{"p":6,"s":"a","t":14,"R":2.77},{"p":6,"s":"a","t":17,"R":2.77},{"p":6,"s":"a","t":20,"R":2.72},{"p":6,"s":"a","t":23,"R":2.68},{"p":6,"s":"a","t":26,"R":2.66},{"p":6,"s":"a","t":29,"R":2.63},{"p":6,"s":"a","t":32,"R":2.62},{"p":6,"s":"a","t":35,"R":2.63},{"p":6,"s":"a","t":38,"R":2.62},{"p":6,"s":"a","t":41,"R":2.66},{"p":6,"s":"a","t":44,"R":2.69},{"p":6,"s":"a","t":47,"R":2.7},{"p":6,"s":"a","t":50,"R":2.71},{"p":6,"s":"a","t":53,"R":2.74},{"p":6,"s":"a","t":56,"R":2.76},{"p":6,"s":"a","t":59,"R":2.77},{"p":6,"s":"a","t":62,"R":2.77},{"p":6,"s":"a","t":65,"R":2.8},{"p":6,"s":"a","t":68,"R":2.82},{"p":6,"s":"a","t":71,"R":2.87},{"p":6,"s":"a","t":74,"R":2.9},{"p":6,"s":"a","t":76,"R":2.93},{"p":6,"s":"a","t":78,"R":2.88},{"p":6,"s":"a","t":81,"R":2.89},{"p":6,"s":"a","t":84,"R":2.9},{"p":6,"s":"a","t":87,"R":2.92},{"p":6,"s":"a","t":90,"R":2.88},{"p":6,"s":"a","t":93,"R":2.86},{"p":6,"s":"a","t":96,"R":2.9},{"p":6,"s":"a","t":99,"R":2.96},{"p":6,"s":"a","t":102,"R":3.0},{"p":6,"s":"a","t":105,"R":2.98},{"p":6,"s":"a","t":108,"R":3.03},{"p":6,"s":"a","t":111,"R":3.01},{"p":6,"s":"a","t":114,"R":3.0},{"p":6,"s":"a","t":116,"R":3.03},{"p":6,"s":"a","t":118.5,"R":3.1},
{"p":6,"s":"b","t":1,"R":2.78},{"p":6,"s":"b","t":4,"R":2.74},{"p":6,"s":"b","t":7,"R":2.72},{"p":6,"s":"b","t":10,"R":2.74},{"p":6,"s":"b","t":11.5,"R":2.7},{"p":6,"s":"b","t":13,"R":2.58},{"p":6,"s":"b","t":15,"R":2.48},{"p":6,"s":"b","t":17,"R":2.42},{"p":6,"s":"b","t":20,"R":2.4},{"p":6,"s":"b","t":23,"R":2.41},{"p":6,"s":"b","t":26,"R":2.42},{"p":6,"s":"b","t":29,"R":2.44},{"p":6,"s":"b","t":32,"R":2.44},{"p":6,"s":"b","t":35,"R":2.46},{"p":6,"s":"b","t":38,"R":2.47},{"p":6,"s":"b","t":40,"R":2.5},{"p":6,"s":"b","t":42,"R":2.55},{"p":6,"s":"b","t":45,"R":2.58},{"p":6,"s":"b","t":48,"R":2.61},{"p":6,"s":"b","t":51,"R":2.63},{"p":6,"s":"b","t":54,"R":2.64},{"p":6,"s":"b","t":57,"R":2.66},{"p":6,"s":"b","t":60,"R":2.67},{"p":6,"s":"b","t":63,"R":2.7},{"p":6,"s":"b","t":66,"R":2.72},{"p":6,"s":"b","t":69,"R":2.76},{"p":6,"s":"b","t":72,"R":2.77},{"p":6,"s":"b","t":75,"R":2.79},{"p":6,"s":"b","t":78,"R":2.77},{"p":6,"s":"b","t":81,"R":2.76},{"p":6,"s":"b","t":84,"R":2.8},{"p":6,"s":"b","t":87,"R":2.77},{"p":6,"s":"b","t":90,"R":2.76},{"p":6,"s":"b","t":93,"R":2.78},{"p":6,"s":"b","t":96,"R":2.84},{"p":6,"s":"b","t":99,"R":2.88},{"p":6,"s":"b","t":102,"R":2.93},{"p":6,"s":"b","t":105,"R":2.86},{"p":6,"s":"b","t":108,"R":2.83},{"p":6,"s":"b","t":111,"R":2.8},{"p":6,"s":"b","t":114,"R":2.86},{"p":6,"s":"b","t":116,"R":2.8},{"p":6,"s":"b","t":118.5,"R":2.76},
{"p":6,"s":"c","t":1,"R":2.78},{"p":6,"s":"c","t":4,"R":2.74},{"p":6,"s":"c","t":7,"R":2.72},{"p":6,"s":"c","t":10,"R":2.75},{"p":6,"s":"c","t":12,"R":2.74},{"p":6,"s":"c","t":13.5,"R":2.58},{"p":6,"s":"c","t":15,"R":2.42},{"p":6,"s":"c","t":17,"R":2.28},{"p":6,"s":"c","t":19,"R":2.16},{"p":6,"s":"c","t":21,"R":2.1},{"p":6,"s":"c","t":23,"R":2.08},{"p":6,"s":"c","t":26,"R":2.07},{"p":6,"s":"c","t":29,"R":2.06},{"p":6,"s":"c","t":32,"R":2.08},{"p":6,"s":"c","t":35,"R":2.07},{"p":6,"s":"c","t":38,"R":2.09},{"p":6,"s":"c","t":41,"R":2.11},{"p":6,"s":"c","t":44,"R":2.12},{"p":6,"s":"c","t":47,"R":2.14},{"p":6,"s":"c","t":50,"R":2.16},{"p":6,"s":"c","t":53,"R":2.17},{"p":6,"s":"c","t":56,"R":2.19},{"p":6,"s":"c","t":59,"R":2.21},{"p":6,"s":"c","t":62,"R":2.25},{"p":6,"s":"c","t":65,"R":2.3},{"p":6,"s":"c","t":68,"R":2.33},{"p":6,"s":"c","t":71,"R":2.37},{"p":6,"s":"c","t":74,"R":2.42},{"p":6,"s":"c","t":77,"R":2.47},{"p":6,"s":"c","t":80,"R":2.52},{"p":6,"s":"c","t":83,"R":2.58},{"p":6,"s":"c","t":86,"R":2.64},{"p":6,"s":"c","t":89,"R":2.7},{"p":6,"s":"c","t":92,"R":2.75},{"p":6,"s":"c","t":95,"R":2.8},{"p":6,"s":"c","t":98,"R":2.87},{"p":6,"s":"c","t":101,"R":2.93},{"p":6,"s":"c","t":104,"R":2.98},{"p":6,"s":"c","t":107,"R":3.03},{"p":6,"s":"c","t":110,"R":3.01},{"p":6,"s":"c","t":113,"R":2.99},{"p":6,"s":"c","t":116,"R":3.04},{"p":6,"s":"c","t":118.5,"R":3.0},
{"p":6,"s":"d","t":1,"R":2.78},{"p":6,"s":"d","t":4,"R":2.74},{"p":6,"s":"d","t":7,"R":2.72},{"p":6,"s":"d","t":10,"R":2.74},{"p":6,"s":"d","t":12,"R":2.75},{"p":6,"s":"d","t":13.5,"R":2.62},{"p":6,"s":"d","t":15,"R":2.45},{"p":6,"s":"d","t":17,"R":2.3},{"p":6,"s":"d","t":19,"R":2.19},{"p":6,"s":"d","t":21,"R":2.12},{"p":6,"s":"d","t":23,"R":2.1},{"p":6,"s":"d","t":26,"R":2.09},{"p":6,"s":"d","t":29,"R":2.08},{"p":6,"s":"d","t":32,"R":2.06},{"p":6,"s":"d","t":35,"R":2.09},{"p":6,"s":"d","t":38,"R":2.08},{"p":6,"s":"d","t":41,"R":2.12},{"p":6,"s":"d","t":44,"R":2.13},{"p":6,"s":"d","t":47,"R":2.15},{"p":6,"s":"d","t":50,"R":2.15},{"p":6,"s":"d","t":53,"R":2.18},{"p":6,"s":"d","t":56,"R":2.2},{"p":6,"s":"d","t":59,"R":2.22},{"p":6,"s":"d","t":62,"R":2.27},{"p":6,"s":"d","t":65,"R":2.31},{"p":6,"s":"d","t":68,"R":2.34},{"p":6,"s":"d","t":71,"R":2.39},{"p":6,"s":"d","t":74,"R":2.44},{"p":6,"s":"d","t":77,"R":2.5},{"p":6,"s":"d","t":80,"R":2.52},{"p":6,"s":"d","t":83,"R":2.6},{"p":6,"s":"d","t":86,"R":2.63},{"p":6,"s":"d","t":89,"R":2.68},{"p":6,"s":"d","t":92,"R":2.72},{"p":6,"s":"d","t":95,"R":2.76},{"p":6,"s":"d","t":98,"R":2.84},{"p":6,"s":"d","t":101,"R":2.9},{"p":6,"s":"d","t":104,"R":2.95},{"p":6,"s":"d","t":107,"R":2.92},{"p":6,"s":"d","t":110,"R":2.88},{"p":6,"s":"d","t":113,"R":2.82},{"p":6,"s":"d","t":116,"R":2.78},{"p":6,"s":"d","t":118.5,"R":2.8}
]},
"columns":2,
"spacing":{"row":7,"column":32},
"concat":[
{"width":354,"height":376,"layer":[
{"data":{"name":"tr"},"transform":[{"filter":"datum.p==1"}],"mark":{"type":"line","color":"#0c7a0c","strokeWidth":2.2,"clip":true,"strokeJoin":"round"},"encoding":{"x":{"field":"t","type":"quantitative","scale":{"domain":[0,120],"nice":false,"zero":false},"axis":{"title":null,"values":[0,20,40,60,80,100],"format":"d"}},"y":{"field":"R","type":"quantitative","scale":{"domain":[0,4],"nice":false},"axis":{"title":["R,","кОм"],"values":[0,0.5,1,1.5,2,2.5,3,3.5],"format":"~g","minExtent":54,"domainColor":"#1a8a1a"}},"detail":{"field":"s"}}},
{"data":{"values":[{}]},"mark":{"type":"rect","fill":"white"},"encoding":{"x":{"datum":37,"type":"quantitative"},"x2":{"datum":43},"y":{"datum":3.52,"type":"quantitative"},"y2":{"datum":3.98}}},
{"data":{"values":[{}]},"mark":{"type":"text","font":"Liberation Serif","fontSize":18,"align":"left","baseline":"alphabetic","color":"#000"},"encoding":{"x":{"datum":25.2,"type":"quantitative"},"y":{"datum":3.67,"type":"quantitative"},"text":{"value":"τ = 75"}}},
{"data":{"values":[{}]},"mark":{"type":"text","font":"Liberation Serif","fontSize":13,"align":"left","baseline":"alphabetic","color":"#000"},"encoding":{"x":{"datum":42.6,"type":"quantitative"},"y":{"datum":3.67,"type":"quantitative"},"text":{"value":"мкс"}}},
{"data":{"values":[{}]},"mark":{"type":"text","font":"Liberation Sans","fontSize":17,"align":"left","baseline":"alphabetic","color":"#000"},"encoding":{"x":{"datum":109.7,"type":"quantitative"},"y":{"datum":0.08,"type":"quantitative"},"text":{"value":"t,"}}},
{"data":{"values":[{}]},"mark":{"type":"text","font":"Liberation Sans","fontSize":17,"align":"left","baseline":"alphabetic","color":"#000"},"encoding":{"x":{"datum":106.6,"type":"quantitative"},"y":{"datum":-0.17,"type":"quantitative"},"text":{"value":"мкс"}}}
]},
{"width":353,"height":376,"layer":[
{"data":{"name":"tr"},"transform":[{"filter":"datum.p==2"}],"mark":{"type":"line","color":"#0c7a0c","strokeWidth":2.2,"clip":true,"strokeJoin":"round"},"encoding":{"x":{"field":"t","type":"quantitative","scale":{"domain":[0,118.5],"nice":false,"zero":false},"axis":{"title":null,"values":[0,20,40,60,80,100],"format":"d"}},"y":{"field":"R","type":"quantitative","scale":{"domain":[0,4],"nice":false},"axis":{"title":["R,","кОм"],"values":[0,0.5,1,1.5,2,2.5,3,3.5],"format":"~g","minExtent":40}},"detail":{"field":"s"}}},
{"data":{"values":[{}]},"mark":{"type":"rect","fill":"white"},"encoding":{"x":{"datum":37,"type":"quantitative"},"x2":{"datum":43},"y":{"datum":3.52,"type":"quantitative"},"y2":{"datum":3.98}}},
{"data":{"values":[{}]},"mark":{"type":"text","font":"Liberation Serif","fontSize":18,"align":"left","baseline":"alphabetic","color":"#000"},"encoding":{"x":{"datum":26.8,"type":"quantitative"},"y":{"datum":3.68,"type":"quantitative"},"text":{"value":"τ = 85"}}},
{"data":{"values":[{}]},"mark":{"type":"text","font":"Liberation Serif","fontSize":13,"align":"left","baseline":"alphabetic","color":"#000"},"encoding":{"x":{"datum":44.2,"type":"quantitative"},"y":{"datum":3.68,"type":"quantitative"},"text":{"value":"мкс"}}},
{"data":{"values":[{}]},"mark":{"type":"text","font":"Liberation Sans","fontSize":17,"align":"left","baseline":"alphabetic","color":"#000"},"encoding":{"x":{"datum":108,"type":"quantitative"},"y":{"datum":0.06,"type":"quantitative"},"text":{"value":"t,"}}},
{"data":{"values":[{}]},"mark":{"type":"text","font":"Liberation Sans","fontSize":17,"align":"left","baseline":"alphabetic","color":"#000"},"encoding":{"x":{"datum":105.9,"type":"quantitative"},"y":{"datum":-0.17,"type":"quantitative"},"text":{"value":"мкс"}}}
]},
{"width":354,"height":383,"layer":[
{"data":{"name":"tr"},"transform":[{"filter":"datum.p==3"}],"mark":{"type":"line","color":"#0c7a0c","strokeWidth":2.2,"clip":true,"strokeJoin":"round"},"encoding":{"x":{"field":"t","type":"quantitative","scale":{"domain":[0,120],"nice":false,"zero":false},"axis":{"title":null,"values":[0,20,40,60,80,100],"format":"d"}},"y":{"field":"R","type":"quantitative","scale":{"domain":[0,4],"nice":false},"axis":{"title":["R,","кОм"],"values":[0,0.5,1,1.5,2,2.5,3,3.5],"format":"~g","minExtent":54}},"detail":{"field":"s"}}},
{"data":{"values":[{}]},"mark":{"type":"rect","fill":"white"},"encoding":{"x":{"datum":37,"type":"quantitative"},"x2":{"datum":43},"y":{"datum":3.52,"type":"quantitative"},"y2":{"datum":3.98}}},
{"data":{"values":[{}]},"mark":{"type":"text","font":"Liberation Serif","fontSize":18,"align":"left","baseline":"alphabetic","color":"#000"},"encoding":{"x":{"datum":25.9,"type":"quantitative"},"y":{"datum":3.72,"type":"quantitative"},"text":{"value":"τ = 95"}}},
{"data":{"values":[{}]},"mark":{"type":"text","font":"Liberation Serif","fontSize":13,"align":"left","baseline":"alphabetic","color":"#000"},"encoding":{"x":{"datum":43.3,"type":"quantitative"},"y":{"datum":3.72,"type":"quantitative"},"text":{"value":"мкс"}}},
{"data":{"values":[{}]},"mark":{"type":"text","font":"Liberation Sans","fontSize":17,"align":"left","baseline":"alphabetic","color":"#000"},"encoding":{"x":{"datum":106.7,"type":"quantitative"},"y":{"datum":0.09,"type":"quantitative"},"text":{"value":"t,"}}},
{"data":{"values":[{}]},"mark":{"type":"text","font":"Liberation Sans","fontSize":17,"align":"left","baseline":"alphabetic","color":"#000"},"encoding":{"x":{"datum":107.1,"type":"quantitative"},"y":{"datum":-0.175,"type":"quantitative"},"text":{"value":"мкс"}}}
]},
{"width":353,"height":383,"layer":[
{"data":{"name":"tr"},"transform":[{"filter":"datum.p==4"}],"mark":{"type":"line","color":"#0c7a0c","strokeWidth":2.2,"clip":true,"strokeJoin":"round"},"encoding":{"x":{"field":"t","type":"quantitative","scale":{"domain":[0,118.6],"nice":false,"zero":false},"axis":{"title":null,"values":[0,20,40,60,80,100],"format":"d"}},"y":{"field":"R","type":"quantitative","scale":{"domain":[0,4],"nice":false},"axis":{"title":["R,","кОм"],"values":[0,0.5,1,1.5,2,2.5,3,3.5],"format":"~g","minExtent":40}},"detail":{"field":"s"}}},
{"data":{"values":[{}]},"mark":{"type":"rect","fill":"white"},"encoding":{"x":{"datum":37,"type":"quantitative"},"x2":{"datum":43},"y":{"datum":3.52,"type":"quantitative"},"y2":{"datum":3.98}}},
{"data":{"values":[{}]},"mark":{"type":"text","font":"Liberation Serif","fontSize":18,"align":"left","baseline":"alphabetic","color":"#000"},"encoding":{"x":{"datum":24.6,"type":"quantitative"},"y":{"datum":3.72,"type":"quantitative"},"text":{"value":"τ = 100"}}},
{"data":{"values":[{}]},"mark":{"type":"text","font":"Liberation Serif","fontSize":13,"align":"left","baseline":"alphabetic","color":"#000"},"encoding":{"x":{"datum":44.6,"type":"quantitative"},"y":{"datum":3.72,"type":"quantitative"},"text":{"value":"мкс"}}},
{"data":{"values":[{}]},"mark":{"type":"text","font":"Liberation Sans","fontSize":17,"align":"left","baseline":"alphabetic","color":"#000"},"encoding":{"x":{"datum":107.9,"type":"quantitative"},"y":{"datum":0.08,"type":"quantitative"},"text":{"value":"t,"}}},
{"data":{"values":[{}]},"mark":{"type":"text","font":"Liberation Sans","fontSize":17,"align":"left","baseline":"alphabetic","color":"#000"},"encoding":{"x":{"datum":106,"type":"quantitative"},"y":{"datum":-0.175,"type":"quantitative"},"text":{"value":"мкс"}}}
]},
{"width":356,"height":375,"layer":[
{"data":{"name":"tr"},"transform":[{"filter":"datum.p==5"}],"mark":{"type":"line","color":"#0c7a0c","strokeWidth":2.2,"clip":true,"strokeJoin":"round"},"encoding":{"x":{"field":"t","type":"quantitative","scale":{"domain":[0,120],"nice":false,"zero":false},"axis":{"title":null,"values":[0,20,40,60,80,100],"format":"d"}},"y":{"field":"R","type":"quantitative","scale":{"domain":[0,4],"nice":false},"axis":{"title":["R,","кОм"],"values":[0,0.5,1,1.5,2,2.5,3,3.5],"format":"~g","minExtent":54}},"detail":{"field":"s"}}},
{"data":{"values":[{}]},"mark":{"type":"rect","fill":"white"},"encoding":{"x":{"datum":37,"type":"quantitative"},"x2":{"datum":43},"y":{"datum":3.52,"type":"quantitative"},"y2":{"datum":3.98}}},
{"data":{"values":[{}]},"mark":{"type":"text","font":"Liberation Serif","fontSize":18,"align":"left","baseline":"alphabetic","color":"#000"},"encoding":{"x":{"datum":25.3,"type":"quantitative"},"y":{"datum":3.71,"type":"quantitative"},"text":{"value":"τ = 105"}}},
{"data":{"values":[{}]},"mark":{"type":"text","font":"Liberation Serif","fontSize":13,"align":"left","baseline":"alphabetic","color":"#000"},"encoding":{"x":{"datum":45.1,"type":"quantitative"},"y":{"datum":3.71,"type":"quantitative"},"text":{"value":"мкс"}}},
{"data":{"values":[{}]},"mark":{"type":"text","font":"Liberation Sans","fontSize":17,"align":"left","baseline":"alphabetic","color":"#000"},"encoding":{"x":{"datum":108.6,"type":"quantitative"},"y":{"datum":0.08,"type":"quantitative"},"text":{"value":"t,"}}},
{"data":{"values":[{}]},"mark":{"type":"text","font":"Liberation Sans","fontSize":17,"align":"left","baseline":"alphabetic","color":"#000"},"encoding":{"x":{"datum":106.4,"type":"quantitative"},"y":{"datum":-0.18,"type":"quantitative"},"text":{"value":"мкс"}}}
]},
{"width":353,"height":391,"layer":[
{"data":{"name":"tr"},"transform":[{"filter":"datum.p==6"}],"mark":{"type":"line","color":"#0c7a0c","strokeWidth":2.2,"clip":true,"strokeJoin":"round"},"encoding":{"x":{"field":"t","type":"quantitative","scale":{"domain":[0,118.5],"nice":false,"zero":false},"axis":{"title":null,"values":[0,20,40,60,80,100],"format":"d"}},"y":{"field":"R","type":"quantitative","scale":{"domain":[0,4],"nice":false},"axis":{"title":["R,","кОм"],"values":[0,0.5,1,1.5,2,2.5,3,3.5],"format":"~g","minExtent":40}},"detail":{"field":"s"}}},
{"data":{"values":[{}]},"mark":{"type":"rect","fill":"white"},"encoding":{"x":{"datum":37,"type":"quantitative"},"x2":{"datum":43},"y":{"datum":3.52,"type":"quantitative"},"y2":{"datum":3.98}}},
{"data":{"values":[{}]},"mark":{"type":"text","font":"Liberation Serif","fontSize":18,"align":"left","baseline":"alphabetic","color":"#000"},"encoding":{"x":{"datum":24.9,"type":"quantitative"},"y":{"datum":3.7,"type":"quantitative"},"text":{"value":"τ = 125"}}},
{"data":{"values":[{}]},"mark":{"type":"text","font":"Liberation Serif","fontSize":13,"align":"left","baseline":"alphabetic","color":"#000"},"encoding":{"x":{"datum":44.7,"type":"quantitative"},"y":{"datum":3.7,"type":"quantitative"},"text":{"value":"мкс"}}},
{"data":{"values":[{}]},"mark":{"type":"text","font":"Liberation Sans","fontSize":17,"align":"left","baseline":"alphabetic","color":"#000"},"encoding":{"x":{"datum":108.2,"type":"quantitative"},"y":{"datum":0.07,"type":"quantitative"},"text":{"value":"t,"}}},
{"data":{"values":[{}]},"mark":{"type":"text","font":"Liberation Sans","fontSize":17,"align":"left","baseline":"alphabetic","color":"#000"},"encoding":{"x":{"datum":106.6,"type":"quantitative"},"y":{"datum":-0.17,"type":"quantitative"},"text":{"value":"мкс"}}}
]}
],
"config":{
"view":{"stroke":"#a6a6a6","strokeWidth":1},
"axis":{"grid":true,"gridColor":"#b0b0b0","gridWidth":1,"gridOpacity":1,"ticks":false,"labelFont":"Liberation Sans","labelFontSize":17,"titleFont":"Liberation Sans"},
"axisX":{"labelColor":"#000","labelPadding":2,"labelFlush":false,"domainColor":"#000","domainWidth":1.5},
"axisY":{"labelColor":"#1a8a1a","labelPadding":10,"domainColor":"#555","domainWidth":1.2,"titleColor":"#1a8a1a","titleFontSize":16,"titleFontWeight":"normal","titleAngle":0,"titleAlign":"center","titleBaseline":"alphabetic","titleX":-20,"titleY":15,"titleLineHeight":17}
}
}
